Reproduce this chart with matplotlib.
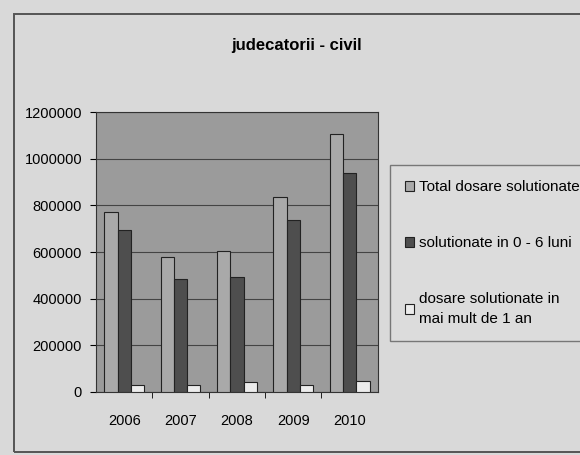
import matplotlib.pyplot as plt
import numpy as np
from matplotlib.patches import Rectangle

# Dados
ani = ["2006", "2007", "2008", "2009", "2010"]
total_solutionate = [770000, 580000, 605000, 835000, 1105000]
solutionate_0_6 = [695000, 485000, 495000, 737000, 940000]
peste_1_an = [28000, 32000, 42000, 32000, 47000]

serii = [
    ("Total dosare solutionate", total_solutionate, "#a9a9a9"),
    ("solutionate in 0 - 6 luni", solutionate_0_6, "#4e4e4e"),
    ("dosare solutionate in\nmai mult de 1 an", peste_1_an, "#ececec"),
]

plt.rcParams['font.family'] = ['Liberation Sans', 'DejaVu Sans']

fig = plt.figure(figsize=(5.8, 4.55), dpi=100)
fig.patch.set_facecolor("#d9d9d9")
fig.patches.append(Rectangle((14 / 580, 3 / 455), 0.99, 1 - 17 / 455, transform=fig.transFigure,
                             fill=False, edgecolor="#555555", linewidth=1.4))

ax = fig.add_axes([0.1655, 0.1385, 0.486, 0.615])
ax.set_facecolor("#9b9b9b")

x = np.arange(len(ani))
w = 0.235
for i, (nume, valori, culoare) in enumerate(serii):
    ax.bar(x + (i - 1) * w, valori, w, color=culoare, edgecolor="#222222",
           linewidth=0.8, label=nume, zorder=3)

ax.set_xlim(-0.5, len(ani) - 0.5)
ax.set_ylim(0, 1200000)
ax.set_yticks(np.arange(0, 1200001, 200000))
ax.set_yticklabels([str(v) for v in range(0, 1200001, 200000)], fontsize=10.5)
ax.yaxis.grid(True, color="#444444", linewidth=0.8, zorder=1)
ax.set_xticks(x)
ax.set_xticklabels(ani, fontsize=10.5)
ax.set_xticks(np.arange(0.5, len(ani) - 0.5), minor=True)
ax.tick_params(axis='x', which='major', length=0, pad=16)
ax.tick_params(axis='x', which='minor', length=4, direction='out')
ax.tick_params(axis='y', length=4, direction='out', pad=6)
for s in ax.spines.values():
    s.set_color("#333333")
    s.set_linewidth(0.8)

fig.text(0.512, 0.9, "judecatorii - civil", ha="center", va="center",
         fontsize=12, fontweight="bold")

leg = fig.legend(loc="upper left", bbox_to_anchor=(390 / 580, 1 - 165 / 455),
                 bbox_transform=fig.transFigure, borderaxespad=0,
                 fontsize=11, labelspacing=2.75, handlelength=0.6, handleheight=0.6,
                 handletextpad=0.3, borderpad=1.0, fancybox=False,
                 facecolor="#dcdcdc", edgecolor="#777777", framealpha=1)
for t in leg.get_texts():
    t.set_linespacing(1.5)

plt.savefig("out.png", dpi=100, facecolor=fig.get_facecolor())
